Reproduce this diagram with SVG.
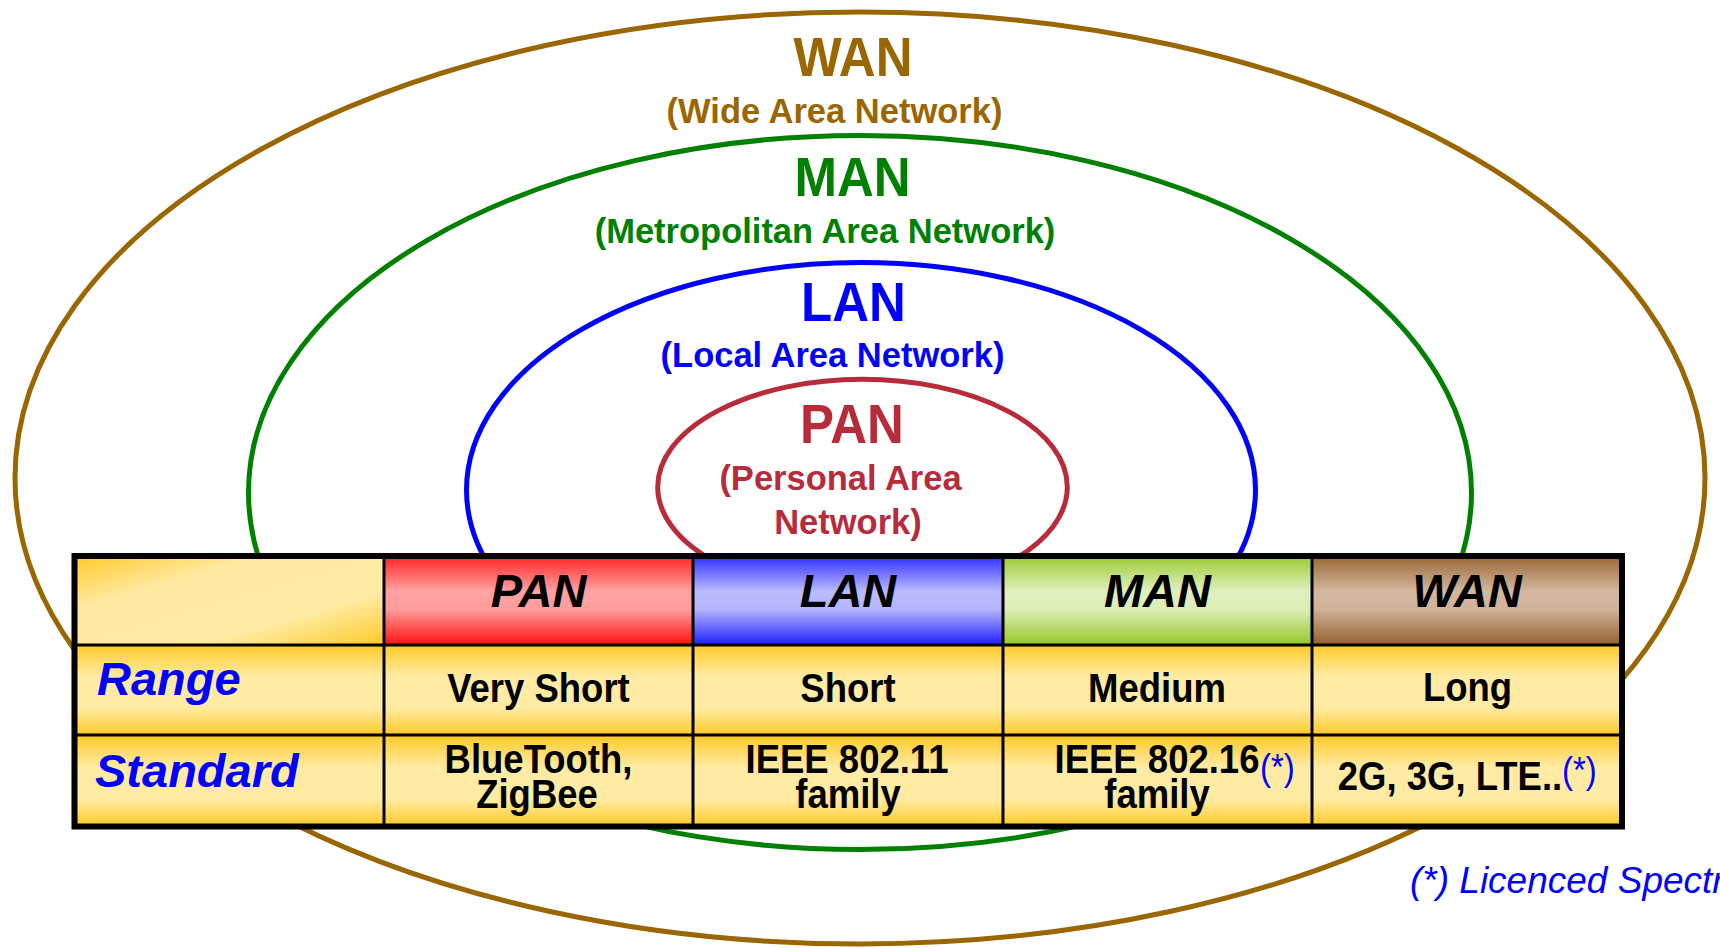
<svg xmlns="http://www.w3.org/2000/svg" width="1720" height="948" viewBox="0 0 1720 948">
<defs>
<style>
.ring{fill:none;stroke-width:5}
.t{font-family:"Liberation Sans",Arial,sans-serif;font-weight:bold;text-anchor:middle}
.title{font-size:51px}
.sub{font-size:34.5px}
.hd{font-family:"Liberation Sans",Arial,sans-serif;font-weight:bold;font-style:italic;font-size:47px;text-anchor:middle;fill:#000}
.rowlab{font-family:"Liberation Sans",Arial,sans-serif;font-weight:bold;font-style:italic;font-size:47px;fill:#0000FF}
.cell{font-family:"Liberation Sans",Arial,sans-serif;font-weight:bold;font-size:36.5px;text-anchor:middle;fill:#000}
.star{font-family:"Liberation Sans",Arial,sans-serif;font-size:33px;fill:#0000FF}
.grid{stroke:#000;stroke-width:3;fill:none}
</style>
<linearGradient id="gCorner" x1="0" y1="0" x2="1" y2="1">
<stop offset="0" stop-color="#FFC926"/><stop offset="0.3" stop-color="#FFE9A0"/><stop offset="0.7" stop-color="#FFEBA3"/><stop offset="1" stop-color="#FFC926"/>
</linearGradient>
<linearGradient id="gBody" x1="0" y1="0" x2="0" y2="1">
<stop offset="0" stop-color="#FFC926"/><stop offset="0.35" stop-color="#FFEBA3"/><stop offset="0.7" stop-color="#FFEBA3"/><stop offset="1" stop-color="#FFC926"/>
</linearGradient>
<linearGradient id="gPan" x1="0" y1="0" x2="0" y2="1">
<stop offset="0" stop-color="#FF2424"/><stop offset="0.4" stop-color="#FFA3A3"/><stop offset="0.6" stop-color="#FF9C9C"/><stop offset="1" stop-color="#FF0F0F"/>
</linearGradient>
<linearGradient id="gLan" x1="0" y1="0" x2="0" y2="1">
<stop offset="0" stop-color="#2E2EFF"/><stop offset="0.4" stop-color="#BBBBFF"/><stop offset="0.6" stop-color="#B5B5FF"/><stop offset="1" stop-color="#1E1EFF"/>
</linearGradient>
<linearGradient id="gMan" x1="0" y1="0" x2="0" y2="1">
<stop offset="0" stop-color="#9ACB33"/><stop offset="0.4" stop-color="#E2F0C0"/><stop offset="0.6" stop-color="#DCEDB5"/><stop offset="1" stop-color="#96C828"/>
</linearGradient>
<linearGradient id="gWan" x1="0" y1="0" x2="0" y2="1">
<stop offset="0" stop-color="#9A6633"/><stop offset="0.4" stop-color="#D3B8A0"/><stop offset="0.6" stop-color="#CFB298"/><stop offset="1" stop-color="#956030"/>
</linearGradient>
</defs>
<rect width="1720" height="948" fill="#FFFFFF"/>

<g id="wan">
<ellipse class="ring" cx="860" cy="478" rx="845" ry="466" stroke="#996600"/>
<text class="t title" fill="#996600" transform="translate(853,75.5) scale(1,1.08)">WAN</text>
<text class="t sub" fill="#996600" x="834.5" y="123">(Wide Area Network)</text>
</g>
<g id="man">
<ellipse class="ring" cx="860" cy="492.5" rx="611.5" ry="357" stroke="#008000"/>
<text class="t title" fill="#008000" transform="translate(852.5,196) scale(1,1.08)">MAN</text>
<text class="t sub" fill="#008000" x="825" y="243">(Metropolitan Area Network)</text>
</g>
<g id="lan">
<ellipse class="ring" cx="861" cy="490" rx="394.5" ry="227.5" stroke="#0000FF"/>
<text class="t title" fill="#0000FF" transform="translate(853.5,320.5) scale(1,1.08)">LAN</text>
<text class="t sub" fill="#0000FF" x="832.5" y="367">(Local Area Network)</text>
</g>
<g id="pan">
<ellipse class="ring" cx="862.5" cy="487" rx="204.8" ry="107.7" stroke="#B82B3B"/>
<text class="t title" fill="#B82B3B" transform="translate(852,443) scale(1,1.08)">PAN</text>
<text class="t sub" fill="#B82B3B" x="840.5" y="490">(Personal Area</text>
<text class="t sub" fill="#B82B3B" x="848" y="534">Network)</text>
</g>

<g id="table">
<rect x="74.5" y="556" width="309.5" height="89" fill="url(#gCorner)"/>
<rect x="384" y="556" width="309" height="89" fill="url(#gPan)"/>
<rect x="693" y="556" width="310" height="89" fill="url(#gLan)"/>
<rect x="1003" y="556" width="309" height="89" fill="url(#gMan)"/>
<rect x="1312" y="556" width="310" height="89" fill="url(#gWan)"/>
<rect x="74.5" y="645" width="1547.5" height="90" fill="url(#gBody)"/>
<rect x="74.5" y="735" width="1547.5" height="91.5" fill="url(#gBody)"/>
<g class="grid">
<line x1="74.5" y1="645" x2="1622" y2="645"/>
<line x1="74.5" y1="735" x2="1622" y2="735"/>
<line x1="384" y1="556" x2="384" y2="826.5"/>
<line x1="693" y1="556" x2="693" y2="826.5"/>
<line x1="1003" y1="556" x2="1003" y2="826.5"/>
<line x1="1312" y1="556" x2="1312" y2="826.5"/>
</g>
<rect x="74.5" y="556" width="1547.5" height="270.5" fill="none" stroke="#000" stroke-width="6"/>

<text class="hd" x="538.5" y="607">PAN</text>
<text class="hd" x="848" y="607">LAN</text>
<text class="hd" x="1157.5" y="607">MAN</text>
<text class="hd" x="1467" y="607">WAN</text>

<text class="rowlab" x="97" y="695">Range</text>
<text class="rowlab" x="95" y="787">Standard</text>

<text class="cell" transform="translate(538.5,702) scale(1,1.1)">Very Short</text>
<text class="cell" transform="translate(848,702) scale(1,1.1)">Short</text>
<text class="cell" transform="translate(1157,702) scale(1,1.1)">Medium</text>
<text class="cell" transform="translate(1467.5,701) scale(1,1.1)">Long</text>

<text class="cell" transform="translate(538.5,773) scale(1,1.1)">BlueTooth,</text>
<text class="cell" transform="translate(537,808) scale(1,1.1)">ZigBee</text>
<text class="cell" transform="translate(847,773) scale(1,1.1)">IEEE 802.11</text>
<text class="cell" transform="translate(848,808) scale(1,1.1)">family</text>
<text class="cell" transform="translate(1157,773) scale(1,1.1)">IEEE 802.16</text>
<text class="star" transform="translate(1260,780) scale(1,1.1)">(*)</text>
<text class="cell" transform="translate(1157,808) scale(1,1.1)">family</text>
<text class="cell" transform="translate(1450,790) scale(1,1.1)">2G, 3G, LTE..</text>
<text class="star" transform="translate(1562,783) scale(1,1.1)">(*)</text>
</g>

<text id="footnote" x="1410" y="893" font-family="'Liberation Sans',Arial,sans-serif" font-style="italic" font-size="37" fill="#0000FF">(*) Licenced Spectrum</text>
</svg>
